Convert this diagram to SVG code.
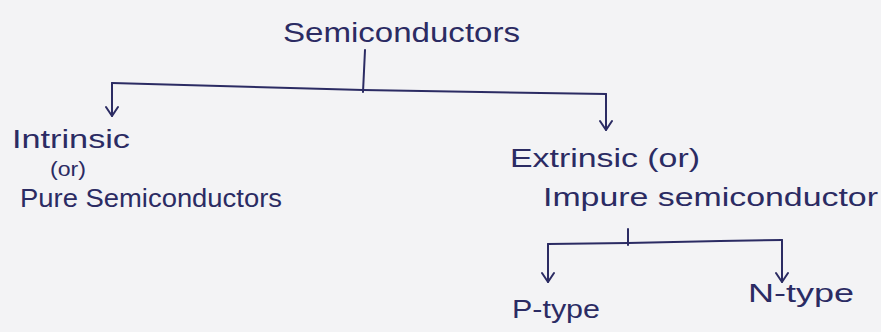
<svg xmlns="http://www.w3.org/2000/svg" width="881" height="332" viewBox="0 0 881 332">
<style>
.bg{fill:#f3f3f5}
.t{font-family:"Liberation Sans","DejaVu Sans",sans-serif;fill:#2b2b63}
.c{fill:none;stroke:#2b2b63;stroke-width:2;stroke-linecap:round;stroke-linejoin:round}
</style>
<defs>
<marker id="v" viewBox="0 0 12 12" refX="6" refY="11" markerWidth="12" markerHeight="12" markerUnits="userSpaceOnUse" orient="auto-start-reverse">
<polyline points="1,4 6,11 11,4" fill="none" stroke="#2b2b63" stroke-width="2" stroke-linecap="round" stroke-linejoin="round" transform="rotate(-90 6 6)"/>
</marker>
<marker id="a" viewBox="0 0 14 14" refX="7" refY="12" markerWidth="14" markerHeight="14" markerUnits="userSpaceOnUse" orient="0">
<polyline points="1,3 7,12 13,3" fill="none" stroke="#2b2b63" stroke-width="2" stroke-linecap="round" stroke-linejoin="round"/>
</marker>
</defs>
<rect class="bg" x="0" y="0" width="881" height="332"/>
<g id="connectors">
<path class="c" d="M365,50 L363,92"/>
<path class="c" d="M112,83 L363,90 L606,94"/>
<path class="c" d="M112,83 L112,116" marker-end="url(#a)"/>
<path class="c" d="M606,94 L606,130" marker-end="url(#a)"/>
<path class="c" d="M628,229 L628,245"/>
<path class="c" d="M548,244 L628,243 L720,241 L782,240"/>
<path class="c" d="M548,244 L548,282" marker-end="url(#a)"/>
<path class="c" d="M782,240 L782,282" marker-end="url(#a)"/>
</g>
<g id="semiconductors"><text class="t" x="283" y="42" font-size="27" textLength="237" lengthAdjust="spacingAndGlyphs">Semiconductors</text></g>
<g id="intrinsic">
<text class="t" x="12" y="148" font-size="25" textLength="118" lengthAdjust="spacingAndGlyphs">Intrinsic</text>
<text class="t" x="50" y="176" font-size="21" textLength="36" lengthAdjust="spacingAndGlyphs">(or)</text>
<text class="t" x="20" y="207" font-size="25" textLength="262" lengthAdjust="spacingAndGlyphs">Pure Semiconductors</text>
</g>
<g id="extrinsic">
<text class="t" x="510" y="167" font-size="25" textLength="190" lengthAdjust="spacingAndGlyphs">Extrinsic (or)</text>
<text class="t" x="543" y="206" font-size="26" textLength="335" lengthAdjust="spacingAndGlyphs">Impure semiconductor</text>
</g>
<g id="ptype"><text class="t" x="512" y="318" font-size="25" textLength="88" lengthAdjust="spacingAndGlyphs">P-type</text></g>
<g id="ntype"><text class="t" x="748" y="302" font-size="25" textLength="106" lengthAdjust="spacingAndGlyphs">N-type</text></g>
</svg>
